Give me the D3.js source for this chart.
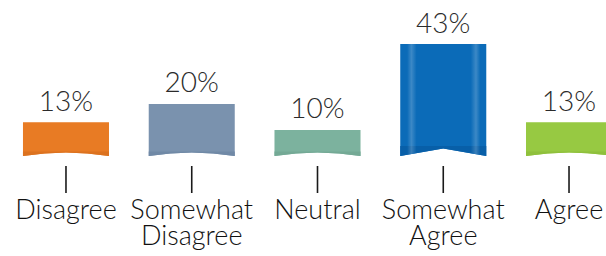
<!DOCTYPE html>
<html>
<head>
<meta charset="utf-8">
<script src="https://cdn.jsdelivr.net/npm/d3@7"></script>
<style>
  body { margin: 0; background: #fff; }
  text { font-family: "Lato", "Open Sans", sans-serif; font-weight: 300; }
</style>
</head>
<body>
<div id="chart"></div>
<script>
//chart data
const categories = ["Disagree", "Somewhat Disagree", "Neutral", "Somewhat Agree", "Agree"];
const categoryLines = [["Disagree"], ["Somewhat", "Disagree"], ["Neutral"], ["Somewhat", "Agree"], ["Agree"]];
const percents = [13, 20, 10, 43, 13];
const barColors = ["#e87b24", "#7a92ae", "#7cb29e", "#0b6bb8", "#97c942"];
const bandColors = ["#dc721f", "#7089a6", "#74a995", "#085fa8", "#8fc03c"];

const width = 606;
const height = 256;
const baseY = 156;

const svg = d3.select("#chart")
  .append("svg")
  .attr("width", width)
  .attr("height", height);

//x scale for the categories
const xScale = d3.scaleBand()
  .domain(categories)
  .range([3.1, 631.9])
  .paddingInner(0.316)
  .paddingOuter(0.158);

//y scale for the percentages
const yScale = d3.scaleLinear()
  .domain([0, 43])
  .range([baseY, 44]);

const defs = svg.append("defs");
//gloss on the tallest bar
const gloss = defs.append("linearGradient").attr("id", "gloss");
[[0, 0.0], [0.08, 0.0], [0.13, 0.2], [0.19, 0.0], [0.82, 0.0], [0.88, 0.2], [0.93, 0.0], [1, 0.0]]
  .forEach(s => gloss.append("stop").attr("offset", s[0]).attr("stop-color", "#fff").attr("stop-opacity", s[1]));

const maxVal = d3.max(percents);
const data = categories.map((c, i) => ({ c: c, v: percents[i], i: i }));

//ribbon shaped bar: flat top, notched bottom
function ribbon(d, top, notch) {
  const x0 = xScale(d.c), x1 = x0 + xScale.bandwidth(), xm = (x0 + x1) / 2;
  if (d.v === maxVal) {
    return `M${x0},${top}H${x1}V${baseY}L${xm},${baseY - notch}L${x0},${baseY}Z`;
  }
  return `M${x0},${top}H${x1}V${baseY}Q${xm},${baseY - 2 * notch} ${x0},${baseY}Z`;
}
const notchOf = d => d.v === maxVal ? 7.5 : 3.5;

svg.selectAll(".bar")
  .data(data)
  .enter()
  .append("path")
  .attr("class", "bar")
  .attr("d", d => ribbon(d, yScale(d.v), notchOf(d)))
  .attr("fill", d => barColors[d.i]);

//darker band at the bottom of each ribbon
svg.selectAll(".band")
  .data(data)
  .enter()
  .append("path")
  .attr("class", "band")
  .attr("d", d => ribbon(d, baseY - notchOf(d) - (d.v === maxVal ? 2.5 : 1), notchOf(d)))
  .attr("fill", d => bandColors[d.i]);

svg.selectAll(".gloss")
  .data(data.filter(d => d.v === maxVal))
  .enter()
  .append("path")
  .attr("class", "gloss")
  .attr("d", d => ribbon(d, yScale(d.v), notchOf(d)))
  .attr("fill", "url(#gloss)");

//percentage labels
svg.selectAll(".pct")
  .data(data)
  .enter()
  .append("text")
  .attr("class", "pct")
  .attr("x", d => xScale(d.c) + xScale.bandwidth() / 2)
  .attr("y", d => yScale(d.v) - 11.5)
  .attr("text-anchor", "middle")
  .attr("font-size", "28px")
  .attr("fill", "#2b2b2b")
  .text(d => d.v + "%");

//category ticks
const axis = svg.append("g")
  .attr("transform", "translate(0,166)")
  .call(d3.axisBottom(xScale).tickSize(27).tickSizeOuter(0).tickFormat(""));
axis.select(".domain").remove();
axis.selectAll(".tick line").attr("stroke", "#1a1a1a").attr("stroke-width", 1.6);

//category labels, one text per line
const lineData = [];
data.forEach(d => categoryLines[d.i].forEach((t, j) => lineData.push({ t: t, j: j, c: d.c })));
svg.selectAll(".cat")
  .data(lineData)
  .enter()
  .append("text")
  .attr("class", "cat")
  .attr("x", d => xScale(d.c) + xScale.bandwidth() / 2)
  .attr("y", d => 218.5 + d.j * 26.5)
  .attr("text-anchor", "middle")
  .attr("font-size", "27px")
  .attr("fill", "#111")
  .text(d => d.t);
</script>
</body>
</html>
